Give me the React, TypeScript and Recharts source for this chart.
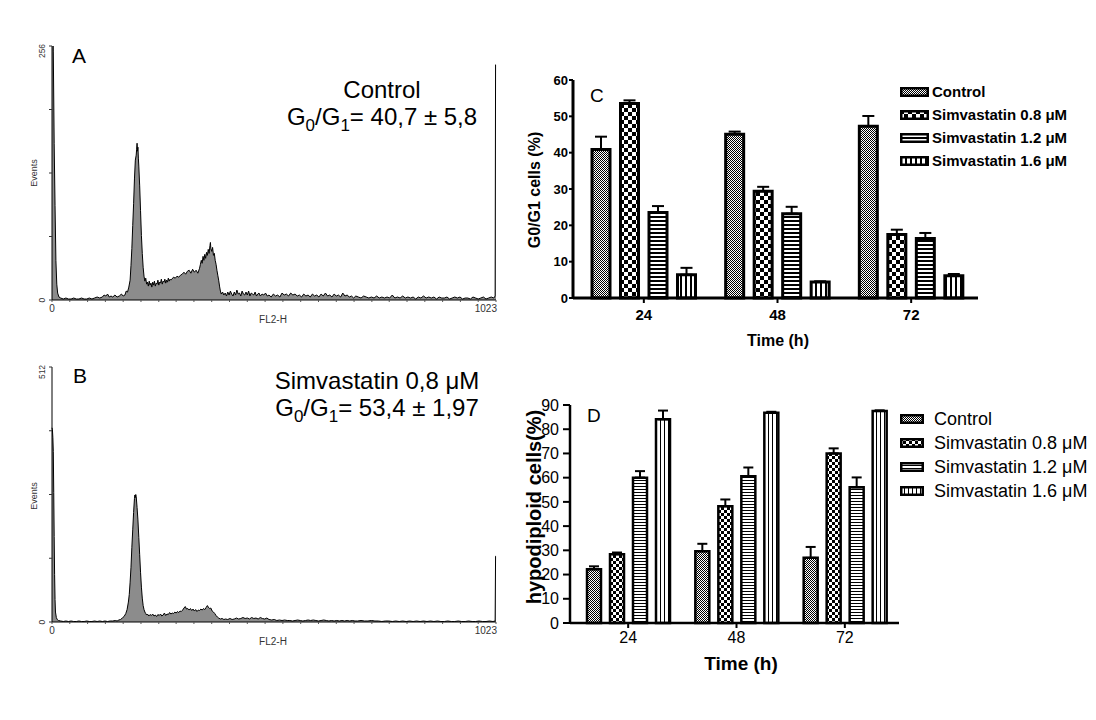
import React from "react";
import { Area, AreaChart, Bar, BarChart, ErrorBar, Legend, XAxis, YAxis } from "recharts";

const FONT = "'Liberation Sans', Arial, Helvetica, sans-serif";

// ---- flow cytometry histograms (channel, events) ----
const channelTicks = [0, 41, 82, 123, 164, 205, 246, 286, 327, 368, 409, 450, 491, 532, 573, 614, 655, 696, 737, 777, 818, 859, 900, 941, 982, 1023];

const histControl: [number, number][] = [
  [0, 300], [2, 300], [3, 250], [5, 158], [7, 95], [9, 40], [11, 16], [13, 7], [16, 3], [20, 2], [26, 1], [32, 2], [38, 1],
  [44, 1], [50, 2], [56, 1], [62, 1], [68, 2], [74, 1], [80, 1], [86, 2], [92, 1], [98, 2], [104, 3], [110, 2], [116, 3],
  [120, 5], [124, 4], [128, 6], [132, 3], [136, 4], [140, 3], [145, 5], [150, 3], [155, 4], [160, 6], [164, 4], [168, 5],
  [171, 9], [174, 8], [177, 13], [180, 20], [182, 35], [184, 52], [186, 75], [188, 97], [190, 122], [192, 141], [194, 146],
  [195, 152], [196, 158], [197, 150], [198, 154], [199, 143], [200, 135], [202, 115], [204, 90], [206, 65], [208, 47],
  [210, 33], [212, 24], [214, 19], [216, 22], [218, 16], [220, 18], [222, 14], [224, 19], [226, 15], [228, 17], [230, 13],
  [232, 18], [234, 15], [236, 19], [238, 14], [240, 17], [242, 16], [244, 20], [246, 15], [248, 18], [250, 17], [252, 21],
  [254, 16], [256, 19], [258, 18], [260, 21], [262, 17], [264, 20], [266, 18], [268, 22], [270, 19], [272, 21], [274, 20],
  [276, 21], [280, 23], [284, 22], [288, 24], [292, 23], [296, 25], [300, 26], [304, 28], [308, 26], [312, 29], [316, 30],
  [320, 27], [324, 31], [328, 28], [332, 30], [336, 27], [340, 32], [342, 36], [344, 40], [346, 37], [348, 44], [350, 40],
  [352, 46], [354, 42], [356, 48], [358, 45], [360, 51], [362, 47], [364, 55], [365, 58], [366, 52], [368, 49], [370, 53],
  [372, 45], [374, 47], [376, 40], [378, 36], [380, 30], [382, 25], [384, 20], [386, 14], [388, 9], [390, 6], [393, 8],
  [396, 5], [399, 7], [402, 4], [405, 8], [408, 5], [411, 9], [414, 6], [417, 4], [420, 8], [423, 5], [426, 10], [429, 6],
  [432, 7], [435, 4], [438, 9], [441, 6], [444, 5], [447, 8], [450, 5], [453, 9], [456, 4], [459, 7], [462, 6], [465, 5],
  [468, 8], [471, 4], [474, 6], [477, 7], [480, 4], [484, 6], [488, 5], [492, 7], [496, 4], [500, 5], [505, 3], [510, 6],
  [515, 4], [520, 5], [525, 3], [530, 7], [535, 5], [540, 6], [545, 4], [550, 7], [555, 5], [560, 6], [565, 4], [570, 5],
  [575, 3], [580, 6], [585, 4], [590, 5], [595, 3], [600, 6], [605, 4], [610, 5], [615, 3], [620, 6], [625, 4], [630, 7],
  [635, 4], [640, 5], [645, 3], [650, 6], [655, 4], [660, 5], [665, 3], [670, 7], [675, 4], [680, 5], [685, 3], [690, 4],
  [695, 2], [700, 4], [706, 3], [712, 2], [718, 4], [724, 3], [730, 2], [736, 3], [742, 2], [748, 4], [754, 2], [760, 3],
  [766, 2], [772, 3], [778, 2], [784, 5], [790, 2], [796, 3], [802, 2], [808, 4], [814, 2], [820, 3], [826, 2], [832, 3],
  [838, 1], [844, 3], [850, 2], [856, 4], [862, 2], [868, 3], [874, 2], [880, 3], [886, 1], [892, 3], [898, 2], [904, 2],
  [910, 3], [916, 1], [922, 2], [928, 3], [934, 2], [940, 3], [946, 1], [952, 2], [958, 2], [964, 1], [970, 3], [976, 2],
  [982, 1], [988, 2], [994, 3], [1000, 1], [1006, 2], [1012, 3], [1018, 2], [1021, 4], [1022, 237], [1023, 237],
];

const histSimva08: [number, number][] = [
  [0, 390], [1, 386], [2, 370], [3, 342], [4, 260], [5, 172], [6, 95], [7, 45], [8, 20], [10, 9], [12, 5], [15, 3], [20, 2],
  [26, 1], [32, 2], [38, 1], [44, 2], [50, 1], [56, 1], [62, 2], [68, 1], [74, 1], [80, 2], [86, 1], [92, 1], [98, 2],
  [104, 1], [110, 2], [116, 1], [122, 2], [128, 1], [134, 2], [140, 2], [146, 3], [150, 2], [154, 4], [158, 5], [162, 8],
  [166, 11], [170, 17], [173, 25], [176, 40], [178, 55], [180, 80], [182, 110], [184, 150], [186, 185], [188, 220],
  [190, 248], [191, 255], [192, 250], [193, 256], [194, 252], [196, 230], [198, 205], [200, 170], [202, 135], [204, 100],
  [206, 70], [208, 48], [210, 33], [212, 25], [214, 20], [216, 17], [218, 14], [220, 16], [223, 12], [226, 15], [229, 13],
  [232, 16], [235, 12], [238, 14], [241, 11], [244, 15], [247, 13], [250, 16], [253, 12], [256, 14], [259, 18], [262, 13],
  [265, 16], [268, 15], [271, 19], [274, 16], [277, 18], [280, 17], [283, 20], [286, 18], [289, 21], [292, 19], [295, 22],
  [298, 21], [301, 24], [304, 28], [307, 31], [310, 26], [313, 27], [316, 24], [319, 27], [322, 23], [325, 26], [328, 22],
  [331, 25], [334, 21], [337, 24], [340, 23], [343, 26], [346, 24], [349, 27], [352, 25], [355, 29], [358, 33], [360, 30],
  [363, 27], [366, 28], [369, 22], [372, 20], [375, 17], [378, 13], [381, 10], [384, 8], [388, 6], [392, 7], [396, 5],
  [400, 6], [405, 5], [410, 7], [415, 5], [420, 6], [425, 8], [430, 6], [435, 7], [440, 9], [445, 7], [450, 8], [455, 6],
  [460, 9], [465, 7], [470, 8], [475, 6], [480, 9], [485, 7], [490, 6], [495, 8], [500, 5], [506, 4], [512, 5], [518, 3],
  [524, 4], [530, 3], [536, 4], [542, 3], [548, 3], [554, 2], [560, 3], [566, 4], [572, 3], [578, 2], [584, 3], [590, 4],
  [596, 3], [602, 4], [608, 3], [614, 2], [620, 3], [626, 4], [632, 3], [638, 2], [644, 3], [650, 2], [656, 3], [662, 2],
  [668, 3], [674, 2], [680, 3], [686, 2], [692, 3], [698, 2], [704, 2], [712, 3], [720, 2], [728, 2], [736, 3], [744, 2],
  [752, 2], [760, 1], [768, 2], [776, 2], [784, 1], [792, 2], [800, 1], [808, 2], [816, 1], [824, 2], [832, 1], [840, 2],
  [848, 1], [856, 2], [864, 1], [872, 2], [880, 1], [888, 2], [896, 1], [904, 1], [912, 2], [920, 1], [928, 1], [936, 2],
  [944, 1], [952, 1], [960, 2], [968, 1], [976, 1], [984, 2], [992, 1], [1000, 1], [1008, 2], [1016, 1], [1021, 2],
  [1022, 132], [1023, 132],
];

// ---- bar charts ----
const times = ["24", "48", "72"];
const seriesNames = ["Control", "Simvastatin 0.8 μM", "Simvastatin 1.2 μM", "Simvastatin 1.6 μM"];

// C: G0/G1 cells (%)
const g1Ctrl = [40.9, 45.1, 47.3];
const g1CtrlErr = [3.5, 0.7, 2.8];
const g1S08 = [53.5, 29.4, 17.5];
const g1S08Err = [0.9, 1.2, 1.3];
const g1S12 = [23.5, 23.2, 16.4];
const g1S12Err = [1.8, 1.9, 1.5];
const g1S16 = [6.4, 4.4, 6.1];
const g1S16Err = [1.9, 0.2, 0.5];

// D: hypodiploid cells (%)
const hypoCtrl = [22.2, 29.6, 26.9];
const hypoCtrlErr = [1.2, 3.1, 4.5];
const hypoS08 = [28.4, 48.2, 70.0];
const hypoS08Err = [0.7, 2.8, 2.1];
const hypoS12 = [60.0, 60.6, 56.0];
const hypoS12Err = [2.7, 3.6, 4.1];
const hypoS16 = [84.1, 86.8, 87.5];
const hypoS16Err = [3.6, 0.4, 0.3];

const g1Ticks = [0, 10, 20, 30, 40, 50, 60];
const hypoTicks = [0, 10, 20, 30, 40, 50, 60, 70, 80, 90];

const toRows = (a: number[], ae: number[], b: number[], be: number[], c: number[], ce: number[], d: number[], de: number[]) =>
  times.map((t, i) => ({
    time: t,
    ctrl: a[i], ctrlErr: [0, ae[i]],
    s08: b[i], s08Err: [0, be[i]],
    s12: c[i], s12Err: [0, ce[i]],
    s16: d[i], s16Err: [0, de[i]],
  }));

const g1Rows = toRows(g1Ctrl, g1CtrlErr, g1S08, g1S08Err, g1S12, g1S12Err, g1S16, g1S16Err);
const hypoRows = toRows(hypoCtrl, hypoCtrlErr, hypoS08, hypoS08Err, hypoS12, hypoS12Err, hypoS16, hypoS16Err);

const cFills = ["url(#cCtrl)", "url(#cS08)", "url(#cS12)", "url(#cS16)"];
const dFills = ["url(#dCtrl)", "url(#dS08)", "url(#dS12)", "url(#dS16)"];
const barKeys = ["ctrl", "s08", "s12", "s16"];

const toPoints = (h: [number, number][]) => h.map(([ch, n]) => ({ ch, n }));

const channelTick = (props: any) => {
  const { x, y, payload } = props;
  if (payload.value === 0)
    return <text x={x} y={y + 8} textAnchor="middle" fontSize={10} fill="#333" fontFamily={FONT}>0</text>;
  if (payload.value === 1023)
    return <text x={x + 1} y={y + 8} textAnchor="end" fontSize={10} fill="#333" fontFamily={FONT}>1023</text>;
  return <g />;
};

const countTick = (max: number) => (props: any) => {
  const { x, y, payload } = props;
  if (payload.value !== 0 && payload.value !== max) return <g />;
  const ty = payload.value === max ? y + 5 : y;
  const tx = x - 2;
  return (
    <text x={tx} y={ty} transform={`rotate(-90 ${tx} ${ty})`} textAnchor="middle" fontSize={8.5} fill="#333" fontFamily={FONT}>
      {payload.value}
    </text>
  );
};

function Histogram({ data, max, top, bottom }: { data: [number, number][]; max: number; top: number; bottom: number }) {
  const ticks = [0, max / 4, max / 2, (3 * max) / 4, max];
  return (
    <AreaChart width={520} height={330} data={toPoints(data)} margin={{ top, right: 24, bottom, left: 0 }}>
      <XAxis type="number" dataKey="ch" domain={[0, 1023]} ticks={channelTicks} interval={0} tick={channelTick}
        tickSize={2} tickLine={{ stroke: "#555" }} axisLine={{ stroke: "#000" }} height={30} />
      <YAxis type="number" domain={[0, max]} allowDataOverflow ticks={ticks} interval={0} tick={countTick(max)}
        tickSize={3} tickLine={{ stroke: "#333" }} axisLine={{ stroke: "#000" }} width={52} />
      <Area type="linear" dataKey="n" stroke="#000" strokeWidth={1} fill="#8c8c8c" fillOpacity={1} dot={false}
        activeDot={false} isAnimationActive={false} />
    </AreaChart>
  );
}

const makeLegend = (fills: string[], opts: { fontSize: number; fontWeight: number; rowH: number; sw: number; sh: number; gap: number }) =>
  (props: any) => (
    <div style={{ fontFamily: FONT, fontWeight: opts.fontWeight, fontSize: opts.fontSize, color: "#000" }}>
      {(props.payload || []).map((entry: any, i: number) => {
        const idx = seriesNames.indexOf(entry.value);
        return (
          <div key={i} style={{ display: "flex", alignItems: "center", height: opts.rowH, whiteSpace: "nowrap" }}>
            <svg width={opts.sw + 2} height={opts.sh + 2} style={{ display: "block" }}>
              <rect x={1.25} y={1.25} width={opts.sw - 0.5} height={opts.sh - 0.5} fill={fills[idx >= 0 ? idx : i]} stroke="#000" strokeWidth={2.5} />
            </svg>
            <span style={{ marginLeft: opts.gap }}>{entry.value}</span>
          </div>
        );
      })}
    </div>
  );

const legendC = makeLegend(cFills, { fontSize: 15, fontWeight: 700, rowH: 23, sw: 27, sh: 8, gap: 3 });
const legendD = makeLegend(dFills, { fontSize: 18, fontWeight: 400, rowH: 24, sw: 22, sh: 8, gap: 10 });

function Patterns() {
  return (
    <svg width={0} height={0} style={{ position: "absolute" }}>
      <defs>
        <pattern id="cCtrl" width={2} height={2} patternUnits="userSpaceOnUse">
          <rect width={2} height={2} fill="#fff" />
          <rect width={1} height={1} fill="#000" />
          <rect x={1} y={1} width={1} height={1} fill="#000" />
        </pattern>
        <pattern id="cS08" width={8} height={8} patternUnits="userSpaceOnUse">
          <rect width={8} height={8} fill="#fff" />
          <rect width={4} height={4} fill="#000" />
          <rect x={4} y={4} width={4} height={4} fill="#000" />
        </pattern>
        <pattern id="cS12" width={4} height={4} patternUnits="userSpaceOnUse">
          <rect width={4} height={4} fill="#fff" />
          <rect width={4} height={2} fill="#000" />
        </pattern>
        <pattern id="cS16" width={5} height={5} patternUnits="userSpaceOnUse">
          <rect width={5} height={5} fill="#fff" />
          <rect width={2} height={5} fill="#000" />
        </pattern>
        <pattern id="dCtrl" width={2} height={2} patternUnits="userSpaceOnUse">
          <rect width={2} height={2} fill="#fff" />
          <rect width={1} height={1} fill="#000" />
          <rect x={1} y={1} width={1} height={1} fill="#000" />
        </pattern>
        <pattern id="dS08" width={6} height={6} patternUnits="userSpaceOnUse">
          <rect width={6} height={6} fill="#fff" />
          <rect width={3} height={3} fill="#000" />
          <rect x={3} y={3} width={3} height={3} fill="#000" />
        </pattern>
        <pattern id="dS12" width={3} height={3} patternUnits="userSpaceOnUse">
          <rect width={3} height={3} fill="#fff" />
          <rect width={3} height={1} fill="#000" />
        </pattern>
        <pattern id="dS16" width={4} height={4} patternUnits="userSpaceOnUse">
          <rect width={4} height={4} fill="#fff" />
          <rect width={1} height={4} fill="#000" />
        </pattern>
      </defs>
    </svg>
  );
}

function Annotations() {
  const t = { fontFamily: FONT, fill: "#000" } as const;
  return (
    <svg width={1096} height={720} style={{ position: "absolute", left: 0, top: 0, pointerEvents: "none" }}>
      {/* A */}
      <text x={72} y={63} fontSize={21} {...t}>A</text>
      <text x={382} y={98} fontSize={24} textAnchor="middle" {...t}>Control</text>
      <text x={382} y={125} fontSize={24} textAnchor="middle" {...t}>
        G<tspan fontSize={17} dy={6}>0</tspan><tspan dy={-6}>/G</tspan><tspan fontSize={17} dy={6}>1</tspan>
        <tspan dy={-6}>= 40,7 ± 5,8</tspan>
      </text>
      <text x={37} y={173} transform="rotate(-90 37 173)" fontSize={9} textAnchor="middle" fontFamily={FONT} fill="#333">Events</text>
      <text x={273} y={323} fontSize={10} textAnchor="middle" fontFamily={FONT} fill="#333">FL2-H</text>
      {/* B */}
      <text x={73} y={383} fontSize={21} {...t}>B</text>
      <text x={377} y={389} fontSize={24} textAnchor="middle" {...t}>Simvastatin 0,8 μM</text>
      <text x={377} y={416} fontSize={24} textAnchor="middle" {...t}>
        G<tspan fontSize={17} dy={6}>0</tspan><tspan dy={-6}>/G</tspan><tspan fontSize={17} dy={6}>1</tspan>
        <tspan dy={-6}>= 53,4 ± 1,97</tspan>
      </text>
      <text x={37} y={496} transform="rotate(-90 37 496)" fontSize={9} textAnchor="middle" fontFamily={FONT} fill="#333">Events</text>
      <text x={273} y={645} fontSize={10} textAnchor="middle" fontFamily={FONT} fill="#333">FL2-H</text>
      {/* C */}
      <text x={590} y={102} fontSize={19} {...t}>C</text>
      <text x={540} y={190} transform="rotate(-90 540 190)" fontSize={16} fontWeight={700} textAnchor="middle" {...t}>G0/G1 cells (%)</text>
      <text x={778} y={346} fontSize={16} fontWeight={700} textAnchor="middle" {...t}>Time (h)</text>
      {/* D */}
      <text x={587} y={422} fontSize={19} {...t}>D</text>
      <text x={541} y={507} transform="rotate(-90 541 507)" fontSize={20} fontWeight={700} textAnchor="middle" {...t}>hypodiploid cells(%)</text>
      <text x={741} y={670} fontSize={19} fontWeight={700} textAnchor="middle" {...t}>Time (h)</text>
    </svg>
  );
}

export default function App() {
  return (
    <div style={{ position: "absolute", left: 0, top: 0, width: 1096, height: 720, background: "#fff", overflow: "hidden" }}>
      <Patterns />
      <div style={{ position: "absolute", left: 0, top: 0 }}>
        <Histogram data={histControl} max={256} top={46} bottom={0} />
      </div>
      <div style={{ position: "absolute", left: 0, top: 330 }}>
        <Histogram data={histSimva08} max={512} top={37} bottom={8} />
      </div>
      <div style={{ position: "absolute", left: 520, top: 60 }}>
        <BarChart width={576} height={300} data={g1Rows} margin={{ top: 20, right: 118, bottom: 32, left: 0 }} barSize={18} barGap={10.5}>
          <XAxis dataKey="time" padding={{ left: 4, right: 0 }} axisLine={{ stroke: "#000", strokeWidth: 3 }}
            tickLine={{ stroke: "#000", strokeWidth: 2 }} tickSize={5} tickMargin={6}
            tick={{ fill: "#000", fontSize: 15, fontWeight: 700, fontFamily: FONT }} height={30} />
          <YAxis domain={[0, 60]} ticks={g1Ticks} interval={0} width={53} axisLine={{ stroke: "#000", strokeWidth: 3 }}
            tickLine={{ stroke: "#000", strokeWidth: 2 }} tickSize={4} tickMargin={1}
            tick={{ fill: "#000", fontSize: 13, fontWeight: 700, fontFamily: FONT }} />
          <Legend content={legendC} layout="vertical" align="center" verticalAlign="middle"
            wrapperStyle={{ left: 380, top: 20, width: "auto" }} />
          {barKeys.map((k, i) => (
            <Bar key={k} dataKey={k} name={seriesNames[i]} fill={cFills[i]} stroke="#000" strokeWidth={3} isAnimationActive={false}>
              <ErrorBar dataKey={`${k}Err`} direction="y" width={6} stroke="#000" strokeWidth={2} />
            </Bar>
          ))}
        </BarChart>
      </div>
      <div style={{ position: "absolute", left: 520, top: 390 }}>
        <BarChart width={576} height={300} data={hypoRows} margin={{ top: 15, right: 197, bottom: 37, left: 0 }} barSize={14} barGap={9}>
          <XAxis dataKey="time" padding={{ left: 4, right: 0 }} axisLine={{ stroke: "#000", strokeWidth: 2.5 }}
            tickLine={{ stroke: "#000", strokeWidth: 2 }} tickSize={5} tickMargin={4}
            tick={{ fill: "#000", fontSize: 16, fontFamily: FONT }} height={30} />
          <YAxis domain={[0, 90]} ticks={hypoTicks} interval={0} width={50} axisLine={{ stroke: "#000", strokeWidth: 2.5 }}
            tickLine={{ stroke: "#000", strokeWidth: 2 }} tickSize={7} tickMargin={4}
            tick={{ fill: "#000", fontSize: 16, fontFamily: FONT }} />
          <Legend content={legendD} layout="vertical" align="center" verticalAlign="middle"
            wrapperStyle={{ left: 380, top: 17, width: "auto" }} />
          {barKeys.map((k, i) => (
            <Bar key={k} dataKey={k} name={seriesNames[i]} fill={dFills[i]} stroke="#000" strokeWidth={2.5} isAnimationActive={false}>
              <ErrorBar dataKey={`${k}Err`} direction="y" width={5} stroke="#000" strokeWidth={2} />
            </Bar>
          ))}
        </BarChart>
      </div>
      <Annotations />
    </div>
  );
}
